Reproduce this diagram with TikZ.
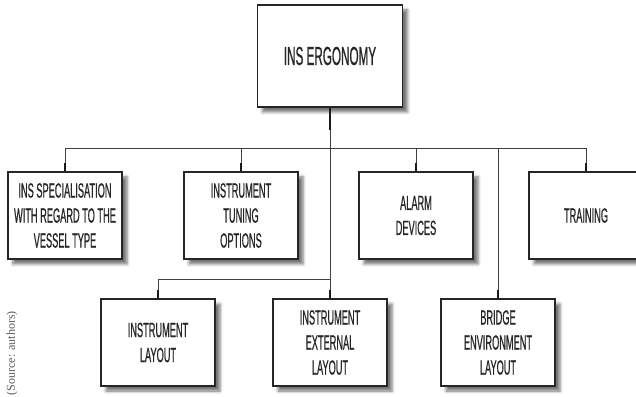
\documentclass[tikz,border=0pt]{standalone}
\usepackage{fontspec}
\setmainfont{Liberation Serif}
\newfontfamily\condfont[FakeStretch=0.45, FakeBold=0.6]{Liberation Sans}
\usetikzlibrary{shadows.blur}

\tikzset{
  box/.style={draw=black!85, line width=1.3pt, fill=white, text=black!85,
    minimum width=114pt, minimum height=87pt, align=center,
    font=\condfont\fontsize{20.5}{25}\selectfont,
    blur shadow={shadow xshift=5pt, shadow yshift=-5pt, shadow blur radius=3pt, shadow opacity=55}},
  link/.style={draw=black!75, line width=0.8pt},
  stub/.style={draw=black!90, line width=2.6pt}
}

\begin{document}
\begin{tikzpicture}[x=1pt, y=1pt]
            \useasboundingbox (0,0) rectangle (636,396);

            % top of the tree
            \node[box, minimum width=145pt, minimum height=102pt, font=\condfont\fontsize{26}{30}\selectfont] (ergo) at (330, 340) {INS ERGONOMY};

            % first row
            \node[box] (spec) at (65, 180.5) {INS SPECIALISATION\\WITH REGARD TO THE\\VESSEL TYPE};
            \node[box] (tune) at (241, 180.5) {INSTRUMENT\\TUNING\\OPTIONS};
            \node[box] (alarm) at (416, 180.5) {ALARM\\DEVICES};
            \node[box] (train) at (586, 180.5) {TRAINING};

            % second row
            \node[box] (lay) at (158, 53.5) {INSTRUMENT\\LAYOUT};
            \node[box] (ext) at (330, 53.5) {INSTRUMENT\\EXTERNAL\\LAYOUT};
            \node[box] (bridge) at (498, 53.5) {BRIDGE\\ENVIRONMENT\\LAYOUT};

            \coordinate (bus) at (330, 248);
            \coordinate (low) at (330, 117);

            % connectors
            \draw[link] (ergo.south) -- (ext.north);
            \draw[link] (spec.north) -- (spec.north |- bus) -- (train.north |- bus) -- (train.north);
            \draw[link] (tune.north) -- (tune.north |- bus);
            \draw[link] (alarm.north) -- (alarm.north |- bus);
            \draw[link] (bridge.north) -- (bridge.north |- bus);
            \draw[link] (lay.north) -- (lay.north |- low) -- (low);

            % thick ends
            \draw[stub] (ergo.south) -- ++(0,-22);
            \foreach \n in {spec, tune, alarm, train, lay, ext, bridge}
                \draw[stub] (\n.north) -- ++(0,8);

            \node[rotate=90, anchor=east, text=black!65, font=\fontsize{12}{14}\selectfont, inner sep=0pt] (src) at (12, 85) {(Source: authors)};
        \end{tikzpicture}
\end{document}
